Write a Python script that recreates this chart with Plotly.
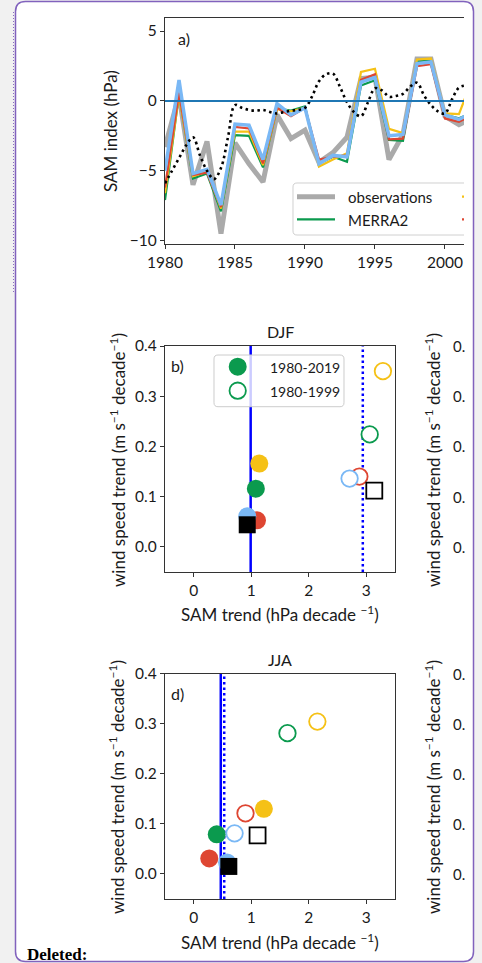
import plotly.graph_objects as go

# ---------------- data ----------------
years = list(range(1980, 2003))
obs_sam = [-3.3, 0.4, -6.0, -2.9, -9.5, -3.0, -4.5, -5.8, -1.0, -2.7, -2.1, -4.4, -3.7, -2.6,
           1.6, 1.7, -4.2, -2.4, 3.0, 3.0, -1.1, -1.7, -1.2]
merra2_sam = [-7.1, 0.5, -5.55, -5.2, -7.9, -2.45, -2.5, -4.76, -0.55, -0.7, -0.4, -4.5, -4.0, -4.35,
              1.1, 1.48, -2.8, -2.86, 2.8, 2.9, -1.0, -1.25, -0.8]
era5_sam = [-6.6, 0.4, -5.4, -5.05, -7.7, -2.2, -2.2, -4.6, -0.6, -0.75, -0.5, -4.7, -4.2, -3.75,
            2.07, 2.3, -2.0, -2.3, 2.96, 3.03, -0.9, -0.95, 1.7]
jra55_sam = [-6.2, 0.6, -5.3, -5.14, -7.6, -1.86, -1.97, -4.47, -0.5, -1.1, -0.5, -4.2, -4.0, -3.9,
             1.5, 1.9, -2.76, -2.7, 2.48, 2.62, -1.26, -1.5, -1.0]
erai_sam = [-5.0, 1.5, -5.2, -4.9, -7.45, -1.66, -1.74, -4.2, -0.2, -1.0, -0.5, -4.5, -3.9, -4.0,
            1.35, 1.67, -2.5, -2.4, 2.67, 2.79, -1.0, -1.33, -0.8]

smooth_t = [1980.0, 1980.5, 1981.0, 1981.5, 1982.0, 1982.5, 1983.0, 1983.5, 1984.0, 1984.5, 1985.0,
            1985.5, 1986.0, 1986.5, 1987.0, 1987.5, 1988.0, 1988.5, 1989.0, 1989.5, 1990.0, 1990.5,
            1991.0, 1991.5, 1992.0, 1992.5, 1993.0, 1993.5, 1994.0, 1994.5, 1995.0, 1995.5, 1996.0,
            1996.5, 1997.0, 1997.5, 1998.0, 1998.5, 1999.0, 1999.5, 2000.0, 2000.5, 2001.0, 2001.5]
smooth_v = [-5.9, -5.0, -4.1, -3.2, -2.6, -3.9, -5.0, -5.6, -4.8, -2.6, -0.3,
            -0.5, -0.65, -0.7, -0.65, -0.8, -0.9, -0.8, -0.7, -0.65, -0.5, 0.3,
            1.4, 1.9, 1.95, 1.0, -0.1, -0.8, -1.1, -0.1, 0.9, 0.75, 0.3,
            0.35, 0.5, 1.0, 1.3, 0.4, -0.3, -0.75, -0.9, 0.1, 0.95, 1.1]

# scatter panels: order MERRA2, ERA5, JRA55, ERA-I, observations
names = ["MERRA2", "ERA5", "JRA55", "ERA-Interim", "observations"]
colors = ["#0b9a4e", "#f5c116", "#de4632", "#7ab8f5", "#000000"]
symbols = ["circle", "circle", "circle", "circle", "square"]
sizes = [18, 18, 18, 18, 17]

djf_full_sam = [1.08, 1.14, 1.10, 0.93, 0.93]
djf_full_wind = [0.116, 0.166, 0.053, 0.061, 0.044]
djf_early_sam = [3.06, 3.29, 2.88, 2.71, 3.14]
djf_early_wind = [0.224, 0.350, 0.140, 0.136, 0.112]
djf_obs_lines = [0.99, 2.94]   # observed SAM trend: 1980-2019 (solid), 1980-1999 (dotted)

jja_full_sam = [0.40, 1.22, 0.27, 0.58, 0.61]
jja_full_wind = [0.079, 0.130, 0.031, 0.023, 0.015]
jja_early_sam = [1.63, 2.15, 0.90, 0.71, 1.11]
jja_early_wind = [0.281, 0.304, 0.121, 0.081, 0.077]
jja_obs_lines = [0.47, 0.53]

# ---------------- helpers ----------------
W, H = 482, 963
FONT = "Lato"
AX = "#333333"


def px(x):
    return x / W


def py(y):
    return 1 - y / H


def P(x, y):
    return f"{px(x):.5f},{py(y):.5f}"


fig = go.Figure()

# ----- panel a -----
fig.add_trace(go.Scatter(x=years, y=obs_sam, mode="lines", line=dict(color="#aaaaaa", width=5),
                         name="observations", xaxis="x", yaxis="y"))
fig.add_trace(go.Scatter(x=years, y=merra2_sam, mode="lines", line=dict(color=colors[0], width=2.2),
                         name="MERRA2", xaxis="x", yaxis="y"))
fig.add_trace(go.Scatter(x=years, y=era5_sam, mode="lines", line=dict(color=colors[1], width=2.2),
                         name="ERA5", xaxis="x", yaxis="y"))
fig.add_trace(go.Scatter(x=years, y=jra55_sam, mode="lines", line=dict(color=colors[2], width=2.2),
                         name="JRA55", xaxis="x", yaxis="y"))
fig.add_trace(go.Scatter(x=years, y=erai_sam, mode="lines", line=dict(color=colors[3], width=3.5),
                         name="ERA-Interim", xaxis="x", yaxis="y"))
fig.add_trace(go.Scatter(x=smooth_t, y=smooth_v, mode="lines", line_shape="spline",
                         line=dict(color="black", width=2.6, dash="2.5px,3.5px"),
                         name="smoothed", xaxis="x", yaxis="y"))


def scatter_panel(xa, ya, full_x, full_y, early_x, early_y):
    fig.add_trace(go.Scatter(x=full_x, y=full_y, mode="markers", xaxis=xa, yaxis=ya,
                             marker=dict(color=colors, symbol=symbols, size=sizes, opacity=1,
                                         line=dict(width=0)),
                             text=names, name="1980-2019"))
    fig.add_trace(go.Scatter(x=early_x, y=early_y, mode="markers", xaxis=xa, yaxis=ya,
                             marker=dict(color="white", symbol=symbols, size=[16.5] * 4 + [16], opacity=1,
                                         line=dict(width=1.8, color=colors)),
                             text=names, name="1980-1999"))


scatter_panel("x2", "y2", djf_full_sam, djf_full_wind, djf_early_sam, djf_early_wind)
scatter_panel("x3", "y3", jja_full_sam, jja_full_wind, jja_early_sam, jja_early_wind)

shapes = []
# page box
x0, x1, y0, y1, r = 15.5, 473.5, 1.5, 961.5, 10
box = (f"M{P(x0 + r, y0)} L{P(x1 - r, y0)} Q{P(x1, y0)} {P(x1, y0 + r)} L{P(x1, y1 - r)} "
       f"Q{P(x1, y1)} {P(x1 - r, y1)} L{P(x0 + r, y1)} Q{P(x0, y1)} {P(x0, y1 - r)} "
       f"L{P(x0, y0 + r)} Q{P(x0, y0)} {P(x0 + r, y0)} Z")
shapes.append(dict(type="path", path=box, xref="paper", yref="paper", layer="below",
                   fillcolor="white", line=dict(color="#8162bd", width=1.5)))
shapes.append(dict(type="line", xref="paper", yref="paper", x0=px(13.5), x1=px(13.5),
                   y0=py(12), y1=py(292), line=dict(color="#8a6cc0", width=1, dash="1px,2px")))

# zero line panel a
shapes.append(dict(type="line", xref="x domain", yref="y", x0=0, x1=1, y0=0, y1=0,
                   layer="above", line=dict(color="#1f77b4", width=2)))

# legend panel a (cut on the right)
lx0, lx1, ly0, ly1, lr = 293, 464, 183, 235, 4
lp = (f"M{P(lx1, ly0)} L{P(lx0 + lr, ly0)} Q{P(lx0, ly0)} {P(lx0, ly0 + lr)} L{P(lx0, ly1 - lr)} "
      f"Q{P(lx0, ly1)} {P(lx0 + lr, ly1)} L{P(lx1, ly1)}")
shapes.append(dict(type="path", path=lp, xref="paper", yref="paper", layer="above",
                   fillcolor="rgba(255,255,255,0.85)", line=dict(color="#d0d0d0", width=1)))
shapes.append(dict(type="line", xref="paper", yref="paper", x0=px(297), x1=px(335), y0=py(196.7),
                   y1=py(196.7), layer="above", line=dict(color="#aaaaaa", width=5)))
shapes.append(dict(type="line", xref="paper", yref="paper", x0=px(297), x1=px(335), y0=py(219.3),
                   y1=py(219.3), layer="above", line=dict(color=colors[0], width=2.2)))
shapes.append(dict(type="line", xref="paper", yref="paper", x0=px(462), x1=px(464), y0=py(196.7),
                   y1=py(196.7), layer="above", line=dict(color=colors[1], width=2.2)))
shapes.append(dict(type="line", xref="paper", yref="paper", x0=px(462), x1=px(464), y0=py(219.3),
                   y1=py(219.3), layer="above", line=dict(color=colors[2], width=2.2)))

# observed SAM trend lines in b / d
for xa, ya, vals in (("x2", "y2", djf_obs_lines), ("x3", "y3", jja_obs_lines)):
    shapes.append(dict(type="line", xref=xa, yref=ya + " domain", x0=vals[0], x1=vals[0], y0=0, y1=1,
                       layer="below", line=dict(color="#0000ff", width=2.5)))
    shapes.append(dict(type="line", xref=xa, yref=ya + " domain", x0=vals[1], x1=vals[1], y0=0, y1=1,
                       layer="below", line=dict(color="#0000ff", width=2.5, dash="2.5px,3px")))

# legend panel b
bx0, bx1, by0, by1, br = 214, 344, 355, 406.7, 4
bp = (f"M{P(bx0 + br, by0)} L{P(bx1 - br, by0)} Q{P(bx1, by0)} {P(bx1, by0 + br)} L{P(bx1, by1 - br)} "
      f"Q{P(bx1, by1)} {P(bx1 - br, by1)} L{P(bx0 + br, by1)} Q{P(bx0, by1)} {P(bx0, by1 - br)} "
      f"L{P(bx0, by0 + br)} Q{P(bx0, by0)} {P(bx0 + br, by0)} Z")
shapes.append(dict(type="path", path=bp, xref="paper", yref="paper", layer="above",
                   fillcolor="rgba(255,255,255,0.8)", line=dict(color="#cccccc", width=1)))
cx, cy1, cy2 = 237.7, 366.7, 390.7
shapes.append(dict(type="circle", xref="paper", yref="paper", layer="above",
                   x0=px(cx - 9), x1=px(cx + 9), y0=py(cy1 + 9), y1=py(cy1 - 9),
                   fillcolor=colors[0], line=dict(width=0)))
shapes.append(dict(type="circle", xref="paper", yref="paper", layer="above",
                   x0=px(cx - 8.2), x1=px(cx + 8.2), y0=py(cy2 + 8.2), y1=py(cy2 - 8.2),
                   fillcolor="white", line=dict(color=colors[0], width=1.8)))

ann = []


def txt(x, y, s, size=15, anchor="center", angle=0, family=FONT, color="#1a1a1a", xref="paper",
        yref="paper", yval=None):
    ann.append(dict(x=px(x) if xref == "paper" else x, y=py(y) if yval is None else yval,
                    xref=xref, yref=yref, text=s, showarrow=False, textangle=angle,
                    xanchor=anchor, yanchor="middle", font=dict(family=family, size=size, color=color)))


TS = 17  # axis title size
txt(184, 38, "a)", 16)
txt(110, 131, "SAM index (hPa)", TS, angle=-90)
txt(346, 197, "observations", 15, anchor="left")
txt(346, 220, "MERRA2", 15, anchor="left")

wlab = "wind speed trend (m s<sup>−1</sup> decade<sup>−1</sup>)"
xlab = "SAM trend (hPa decade <sup>−1</sup>)"
txt(268, 367, "1980-2019", 14, anchor="left")
txt(268, 391, "1980-1999", 14, anchor="left")
txt(177.5, 365, "b)", 16)
txt(280, 332, "DJF", 16)
txt(280, 613, xlab, TS)
txt(117, 460, wlab, TS, angle=-90)
txt(432, 460, wlab, TS, angle=-90)

txt(177.5, 693, "d)", 16)
txt(280, 659, "JJA", 16)
txt(280, 941, xlab, TS)
txt(116, 787, wlab, TS, angle=-90)
txt(432, 787, wlab, TS, angle=-90)

for yv in (0.0, 0.1, 0.2, 0.3, 0.4):
    txt(451, 0, "0.", 15, anchor="left", yref="y2", yval=yv)
    txt(451, 0, "0.", 15, anchor="left", yref="y3", yval=yv)

txt(25, 954, "<b>Deleted:</b>", 17, anchor="left", family="Liberation Serif", color="black")

axis_common = dict(showgrid=False, zeroline=False, showline=True, linecolor=AX, linewidth=1.3,
                   ticks="outside", ticklen=4, tickwidth=1.2, tickcolor=AX, automargin=False,
                   tickfont=dict(family=FONT, size=15.5, color="#1a1a1a"))

fig.update_layout(
    width=W, height=H, margin=dict(l=0, r=0, t=0, b=0, pad=0, autoexpand=False),
    showlegend=False, autosize=False,
    paper_bgcolor="#f1f1f1", plot_bgcolor="white",
    xaxis=dict(domain=[px(165), px(464)], range=[1980, 2001.36], tickvals=[1980, 1985, 1990, 1995, 2000],
               mirror=True, anchor="y", **axis_common),
    yaxis=dict(domain=[py(244), py(18)], range=[-10.24, 5.93], tickvals=[-10, -5, 0, 5],
               ticktext=["−10", "−5", "0", "5"], anchor="x", **axis_common),
    xaxis2=dict(domain=[px(165), px(395)], range=[-0.5, 3.5], tickvals=[0, 1, 2, 3], mirror=True,
                anchor="y2", **axis_common),
    yaxis2=dict(domain=[py(572), py(346)], range=[-0.05, 0.4], tickvals=[0, 0.1, 0.2, 0.3, 0.4],
                tickformat=".1f", mirror=True, anchor="x2", **axis_common),
    xaxis3=dict(domain=[px(165), px(395)], range=[-0.5, 3.5], tickvals=[0, 1, 2, 3], mirror=True,
                anchor="y3", **axis_common),
    yaxis3=dict(domain=[py(899), py(673.5)], range=[-0.05, 0.4], tickvals=[0, 0.1, 0.2, 0.3, 0.4],
                tickformat=".1f", mirror=True, anchor="x3", **axis_common),
    shapes=shapes, annotations=ann,
)

fig.write_html("out.html", config={"responsive": False, "displayModeBar": False},
               post_script="document.body.style.margin='0';document.body.style.padding='0';"
                           "document.documentElement.style.overflow='hidden';")
